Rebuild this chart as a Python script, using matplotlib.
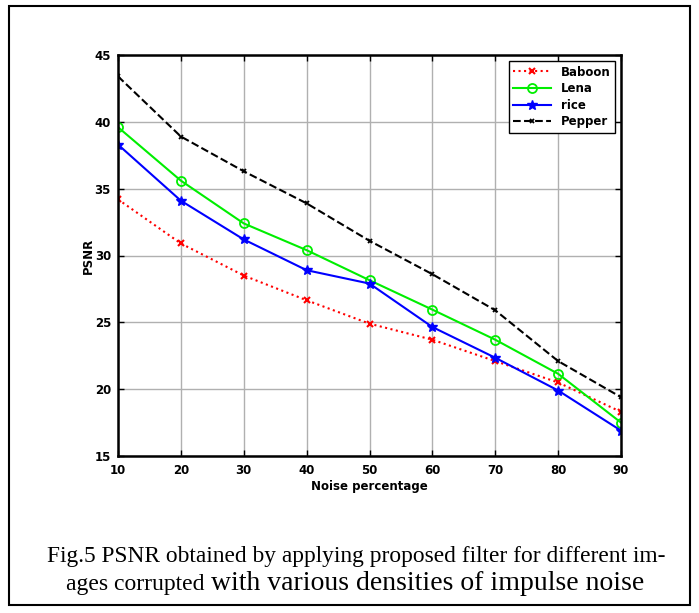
import matplotlib.pyplot as plt
from matplotlib.patches import Rectangle

noise = [10, 20, 30, 40, 50, 60, 70, 80, 90]
baboon = [34.2, 30.9, 28.5, 26.65, 24.9, 23.7, 22.1, 20.5, 18.3]
lena = [39.6, 35.6, 32.4, 30.4, 28.15, 25.95, 23.7, 21.15, 17.5]
rice = [38.3, 34.1, 31.2, 28.9, 27.9, 24.65, 22.35, 19.9, 16.9]
pepper = [43.4, 38.9, 36.3, 33.9, 31.1, 28.6, 25.9, 22.1, 19.4]

fig = plt.figure(figsize=(6.99, 6.13), dpi=100)
ax = fig.add_axes([118 / 699, 1 - 456 / 613, 503 / 699, 401 / 613])

ax.plot(noise, baboon, color='red', ls=':', lw=1.5, marker='x', ms=4, mew=1.5, label='Baboon')
ax.plot(noise, lena, color='#00ee00', ls='-', lw=1.5, marker='o', ms=6.5, mfc='none', mew=1.3, label='Lena')
ax.plot(noise, rice, color='blue', ls='-', lw=1.5, marker='*', ms=7, label='rice')
ax.plot(noise, pepper, color='black', ls='--', lw=1.5, marker='x', ms=3.5, mew=1.3, label='Pepper')

ax.set_xlim(10, 90)
ax.set_ylim(15, 45)
ax.set_xticks(noise)
ax.set_yticks([15, 20, 25, 30, 35, 40, 45])
ax.grid(True, color='#b0b0b0', lw=1.0)
ax.tick_params(direction='in', top=True, right=True, length=4, width=1, labelsize=8.5)
ax.tick_params(axis='x', pad=6)
ax.tick_params(axis='y', pad=5)
for lab in ax.get_xticklabels() + ax.get_yticklabels():
    lab.set_fontweight('bold')
for s in ax.spines.values():
    s.set_linewidth(1.8)
ax.set_xlabel('Noise percentage', fontsize=8.5, fontweight='bold', labelpad=2)
ax.set_ylabel('PSNR', fontsize=8.5, fontweight='bold', labelpad=0)

leg = ax.legend(loc='upper right', fancybox=False, edgecolor='black', framealpha=1,
                prop={'weight': 'bold', 'size': 8.5}, handlelength=3.2,
                borderaxespad=0.5, labelspacing=0.3)
leg.get_frame().set_linewidth(1.0)

fig.patches.append(Rectangle((9 / 699, 1 - 605 / 613), 681 / 699, 599 / 613,
                             transform=fig.transFigure, fill=False, ec='black', lw=1.5))

fig.text(356 / 699, 1 - 562 / 613,
         'Fig.5 PSNR obtained by applying proposed filter for different im-',
         ha='center', va='baseline', family='Liberation Serif', fontsize=16.8)
fig.text(204 / 699, 1 - 590 / 613, 'ages corrupted', ha='right', va='baseline',
         family='Liberation Serif', fontsize=17)
fig.text(211 / 699, 1 - 590 / 613, 'with various densities of impulse noise', ha='left', va='baseline',
         family='Liberation Serif', fontsize=20)

fig.savefig('out.png', dpi=100)
